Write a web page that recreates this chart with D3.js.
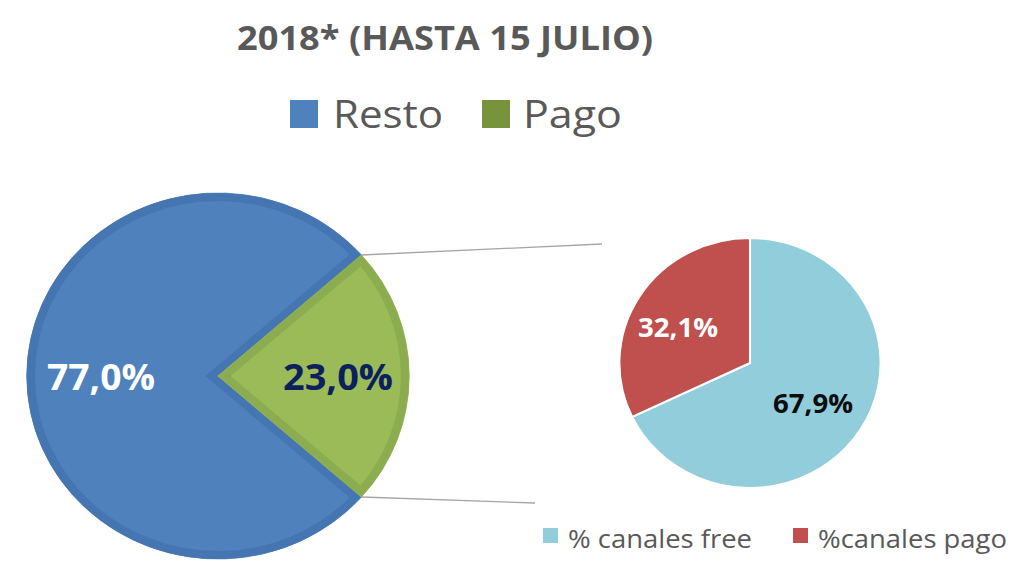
<!DOCTYPE html>
<html><head><meta charset="utf-8">
<script src="https://cdn.jsdelivr.net/npm/d3@7"></script>
<style>body{margin:0;background:#fff}svg{display:block}</style>
</head><body>
<svg id="c" width="1024" height="576"></svg>
<script>
const title = "2018* (HASTA 15 JULIO)";
const mainCategories = ["Resto", "Pago"];
const mainValues = [77.0, 23.0];
const mainLabels = ["77,0%", "23,0%"];
const subCategories = ["% canales free", "%canales pago"];
const subValues = [67.9, 32.1];
const subLabels = ["67,9%", "32,1%"];

const svg = d3.select("#c");
const font = "'Open Sans', 'Noto Sans', sans-serif";
const sx = 1.045;
const TAU = Math.PI * 2;

// Title
svg.append("text").attr("x", 445).attr("y", 50).attr("text-anchor", "middle")
  .attr("font-family", font).attr("font-weight", 700).attr("font-size", 34)
  .attr("fill", "#595959").attr("textLength", 416).attr("lengthAdjust", "spacingAndGlyphs")
  .text(title);

// Top legend
const mainLegendColors = ["#4f81bd", "#77933c"];
const topLeg = [{x: 290, tx: 333, tw: 110}, {x: 482, tx: 523, tw: 99}];
mainCategories.forEach((c, i) => {
  svg.append("rect").attr("x", topLeg[i].x).attr("y", 100).attr("width", 28).attr("height", 28)
    .attr("fill", mainLegendColors[i]);
  svg.append("text").attr("x", topLeg[i].tx).attr("y", 128)
    .attr("font-family", font).attr("font-size", 39).attr("fill", "#595959")
    .attr("textLength", topLeg[i].tw).attr("lengthAdjust", "spacingAndGlyphs").text(c);
});

// Big pie geometry
const bigR = 183, bigCx = 218, bigCy = 376;
const mainPie = d3.pie().sort(null).startAngle(Math.PI / 2 + mainValues[1] / 100 * Math.PI)
  .endAngle(Math.PI / 2 + mainValues[1] / 100 * Math.PI + TAU);
const mainArcs = mainPie(mainValues);
const pagoArc = mainArcs[1];
const pt = a => [bigCx + sx * bigR * Math.sin(a), bigCy - bigR * Math.cos(a)];
const p1 = pt(pagoArc.startAngle), p2 = pt(pagoArc.endAngle);

// Connector lines
svg.append("line").attr("x1", p1[0]).attr("y1", p1[1]).attr("x2", 602).attr("y2", 244)
  .attr("stroke", "#a6a6a6").attr("stroke-width", 1.3);
svg.append("line").attr("x1", p2[0]).attr("y1", p2[1]).attr("x2", 535).attr("y2", 503)
  .attr("stroke", "#a6a6a6").attr("stroke-width", 1.3);

// Big pie
const mainFill = ["#4f81bd", "#9bbb59"];
const mainStroke = ["#4676b2", "#8cad4f"];
const arcBig = d3.arc().innerRadius(0).outerRadius(bigR);
const gBig = svg.append("g").attr("transform", `translate(${bigCx},${bigCy}) scale(${sx},1)`);
mainArcs.forEach((a, i) => {
  const g = gBig.append("g");
  g.append("clipPath").attr("id", "ic" + i).append("path").attr("d", arcBig(a));
  g.append("path").attr("d", arcBig(a)).attr("fill", mainFill[i])
    .attr("stroke", mainFill[i]).attr("stroke-width", 0.8);
  g.append("path").attr("d", arcBig(a)).attr("fill", "none").attr("stroke", mainStroke[i])
    .attr("stroke-width", 16).attr("stroke-linejoin", "miter").attr("clip-path", `url(#ic${i})`);
});

// Big labels
const bigLabelPos = [[101, 390, 108], [338, 390, 110]];
const bigLabelColor = ["#ffffff", "#0c1f5e"];
mainLabels.forEach((t, i) => {
  svg.append("text").attr("x", bigLabelPos[i][0]).attr("y", bigLabelPos[i][1]).attr("text-anchor", "middle")
    .attr("font-family", font).attr("font-weight", 700).attr("font-size", 35)
    .attr("fill", bigLabelColor[i]).attr("textLength", bigLabelPos[i][2]).attr("lengthAdjust", "spacingAndGlyphs").text(t);
});

// Small pie
const smR = 125, smCx = 750, smCy = 363;
const subFill = ["#92cddc", "#c0504d"];
const subPie = d3.pie().sort(null);
const subArcs = subPie(subValues);
const arcSm = d3.arc().innerRadius(0).outerRadius(smR);
const gSm = svg.append("g").attr("transform", `translate(${smCx},${smCy}) scale(${sx},1)`);
gSm.selectAll("path").data(subArcs).join("path").attr("d", arcSm)
  .attr("fill", (d, i) => subFill[i]).attr("stroke", "#fff").attr("stroke-width", 2);

const subLabelPos = [[813, 413, 80], [678, 337, 80]];
const subLabelColor = ["#0d0d0d", "#ffffff"];
subLabels.forEach((t, i) => {
  svg.append("text").attr("x", subLabelPos[i][0]).attr("y", subLabelPos[i][1]).attr("text-anchor", "middle")
    .attr("font-family", font).attr("font-weight", 700).attr("font-size", 26)
    .attr("fill", subLabelColor[i]).attr("textLength", subLabelPos[i][2]).attr("lengthAdjust", "spacingAndGlyphs").text(t);
});

// Bottom legend
const botLeg = [{x: 543, tx: 568, tw: 184}, {x: 793, tx: 818, tw: 189}];
subCategories.forEach((c, i) => {
  svg.append("rect").attr("x", botLeg[i].x).attr("y", 528).attr("width", 15).attr("height", 15).attr("fill", subFill[i]);
  svg.append("text").attr("x", botLeg[i].tx).attr("y", 548)
    .attr("font-family", font).attr("font-size", 25).attr("fill", "#595959")
    .attr("textLength", botLeg[i].tw).attr("lengthAdjust", "spacingAndGlyphs").text(c);
});
</script>
</body></html>
